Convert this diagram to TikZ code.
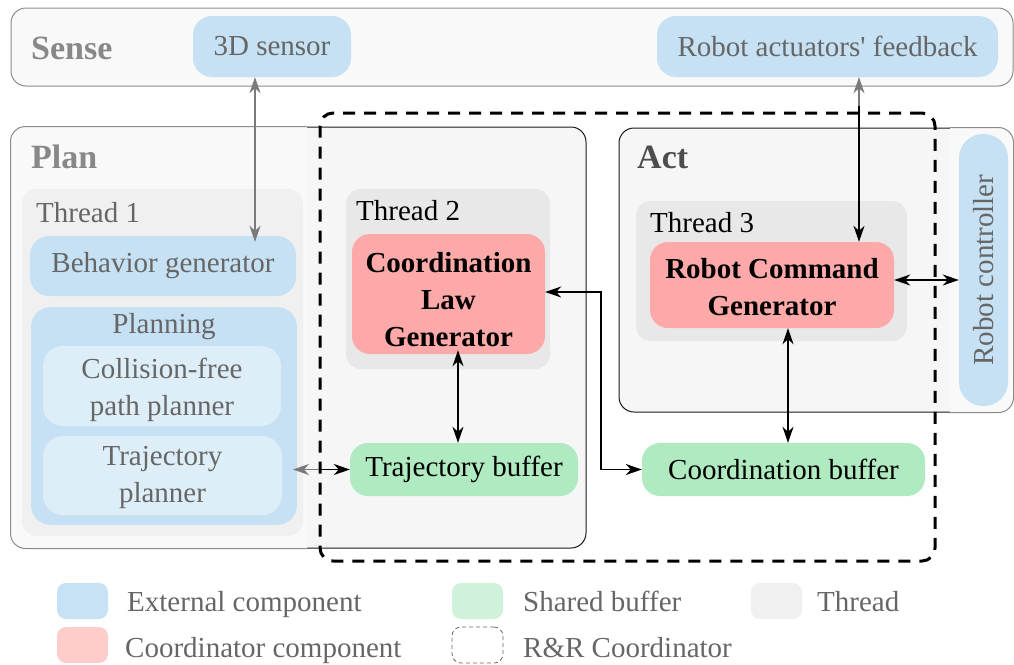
\documentclass[tikz,border=0pt]{standalone}
\usepackage{fontspec}
\setmainfont{Liberation Serif}
\newfontfamily\straightquote{Liberation Serif}[Ligatures=TeXOff]
\usetikzlibrary{arrows.meta,calc}

\definecolor{extblue}{HTML}{C5E1F3}
\definecolor{innerblue}{HTML}{DDEEF8}
\definecolor{coordred}{HTML}{FDA9A9}
\definecolor{bufgreen}{HTML}{AFEAC0}
\definecolor{threadgray}{HTML}{E8E8E8}
\definecolor{threadfade}{HTML}{F0F0F0}
\definecolor{panelback}{HTML}{F6F6F6}
\definecolor{panelfade}{HTML}{F9F9F9}
\definecolor{framegray}{HTML}{8C8C8C}
\definecolor{txtgray}{HTML}{666666}
\definecolor{headgray}{HTML}{888888}
\definecolor{actgray}{HTML}{4D4D4D}
\definecolor{wiregray}{HTML}{7A7A7A}
\definecolor{legred}{HTML}{FFCCCC}
\definecolor{leggreen}{HTML}{D0F2DA}
\definecolor{legblue}{HTML}{C6E2F4}

\tikzset{
  txt/.style={font=\fontsize{29}{37}\selectfont},
  boldtxt/.style={font=\fontsize{29}{37}\selectfont\bfseries},
  headtxt/.style={font=\fontsize{34}{40}\selectfont\bfseries, inner sep=0pt, anchor=base west},
  lbl/.style={txt, inner sep=0pt, anchor=base west},
  panel/.style={draw=black!90, line width=1pt, fill=panelback, rounded corners=15pt},
  threadbox/.style={fill=threadgray, rounded corners=15pt},
  extbox/.style={fill=extblue, rounded corners=19pt, text=txtgray, txt, align=center},
  innerbox/.style={fill=innerblue, rounded corners=20pt},
  coordbox/.style={fill=coordred, rounded corners=18pt},
  bufbox/.style={fill=bufgreen, rounded corners=18pt, txt, align=center},
  multitxt/.style={txt, text=txtgray, align=center, inner sep=0pt},
  multibold/.style={boldtxt, align=center, inner sep=0pt},
  link/.style={line width=1.3pt, {Stealth[length=16pt,width=11pt,inset=5pt]}-{Stealth[length=16pt,width=11pt,inset=5pt]}},
  halfin/.style={line width=1.3pt, -{Stealth[length=16pt,width=11pt,inset=5pt]}},
  legsq/.style={rounded corners=9pt, minimum width=51pt, minimum height=36pt, inner sep=0pt},
  legtxt/.style={txt, text=txtgray, inner sep=0pt, anchor=base west}
}

\begin{document}
\begin{tikzpicture}[x=1pt,y=-1pt]
\useasboundingbox (0,0) rectangle (1014,664);

% --- layers: Sense, Plan, Act ---
\node[draw=framegray, line width=1pt, fill=panelfade, rounded corners=15pt,
      minimum width=1002pt, minimum height=78pt, inner sep=0pt] (sense) at (512,47) {};
\node[panel, minimum width=575pt, minimum height=421pt, inner sep=0pt] (plan) at (298.5,337.5) {};
\node[panel, minimum width=394pt, minimum height=284pt, inner sep=0pt] (act) at (816,270) {};

% parts of the layers lying outside the coordinator band are faded
\begin{scope}
  \clip (0,0) rectangle (307,664) (950,0) rectangle (1014,664);
  \path[draw=framegray, line width=1pt, fill=panelfade, rounded corners=15pt]
    (plan.north west) rectangle (plan.south east);
  \path[draw=framegray, line width=1pt, fill=panelfade, rounded corners=15pt]
    (act.north west) rectangle (act.south east);
\end{scope}

\node[headtxt, text=headgray] (senselbl) at (31,59) {Sense};
\node[headtxt, text=headgray] (planlbl) at (31,168) {Plan};
\node[headtxt, text=actgray] (actlbl) at (637,168) {Act};

% --- threads ---
\node[threadbox, fill=threadfade, minimum width=281pt, minimum height=347pt, inner sep=0pt] (th1) at (162.5,362.5) {};
\node[threadbox, minimum width=204pt, minimum height=180pt, inner sep=0pt] (th2) at (448,279) {};
\node[threadbox, minimum width=271pt, minimum height=140pt, inner sep=0pt] (th3) at (771.5,271) {};
\node[lbl, text=txtgray] (th1lbl) at (36,222) {Thread 1};
\node[lbl] (th2lbl) at (356,220) {Thread 2};
\node[lbl] (th3lbl) at (650,232) {Thread 3};

% --- external components ---
\node[extbox, minimum width=158pt, minimum height=61pt, inner sep=0pt] (sensor) at (272,46.5) {3D sensor};
\node[extbox, minimum width=341pt, minimum height=61pt, inner sep=0pt] (raf) at (827.5,46.5) {Robot actuators{\straightquote'} feedback};
\node[extbox, minimum width=266pt, minimum height=60pt, inner sep=0pt] (bg) at (163,266) {Behavior generator};
\node[extbox, rounded corners=20pt, minimum width=266pt, minimum height=218pt, inner sep=0pt] (planning) at (164,416) {};
\node[txt, text=txtgray, inner sep=0pt, anchor=base] (planninglbl) at (164,333) {Planning};
\node[innerbox, minimum width=238pt, minimum height=80pt, inner sep=0pt] (cfp) at (162,386) {};
\node[multitxt] (cfptxt) at (162,390) {Collision-free\\path planner};
\node[innerbox, minimum width=239pt, minimum height=79pt, inner sep=0pt] (tp) at (162.5,475.5) {};
\node[multitxt] (tptxt) at (162.5,477.5) {Trajectory\\planner};
\node[extbox, rounded corners=24pt, minimum width=49pt, minimum height=272pt, inner sep=0pt] (rc) at (983.5,270) {};
\node[txt, text=txtgray, rotate=90, inner sep=0pt] (rclbl) at (rc.center) {Robot controller};

% --- coordinator components and shared buffers ---
\node[coordbox, minimum width=193pt, minimum height=120pt, inner sep=0pt] (clg) at (448.5,294) {};
\node[multibold] (clgtxt) at (448.5,300) {Coordination\\Law\\Generator};
\node[coordbox, minimum width=244pt, minimum height=86pt, inner sep=0pt] (rcg) at (772,285) {};
\node[multibold] (rcgtxt) at (772,287) {Robot Command\\Generator};
\node[bufbox, minimum width=228pt, minimum height=53pt, inner sep=0pt] (tb) at (464,469.5) {Trajectory buffer};
\node[bufbox, minimum width=283pt, minimum height=53pt, inner sep=0pt] (cb) at (783.5,469.5) {Coordination buffer};

% --- R&R coordinator boundary ---
\node[draw=black, line width=3pt, dash pattern=on 12pt off 9pt, rounded corners=13pt,
      minimum width=615pt, minimum height=448pt, inner sep=0pt] (rr) at (627.5,337) {};

% --- connectors ---
\coordinate (sx) at (255,0);
\draw[link, wiregray] (sensor.south -| sx) -- ([yshift=-6pt]bg.north -| sx);

\coordinate (fx) at (859,0);
\coordinate (fcut) at (859,106);
\draw[halfin, wiregray] (fcut) -- (raf.south -| fx);
\draw[halfin] (fcut) -- (rcg.north -| fx);

\coordinate (tpend) at (293,469.5);
\draw[halfin, wiregray] (tb.west -| rr.west) -- (tpend);
\draw[halfin] (tb.west -| rr.west) -- (tb.west);

\coordinate (lx) at (458,0);
\draw[link] ([yshift=4pt]clg.south -| lx) -- (tb.north -| lx);

\coordinate (elb) at (601,292);
\draw[link] (clg.east |- elb) -- (elb) |- (cb.west);

\coordinate (gx) at (788,0);
\draw[link] (rcg.south -| gx) -- (cb.north -| gx);

\coordinate (hy) at (0,280);
\draw[link] (rcg.east |- hy) -- (rc.west |- hy);

% --- legend ---
\node[legsq, fill=legblue] (legext) at (82.5,601) {};
\node[legsq, fill=legred] (legcoord) at (82.5,645) {};
\node[legsq, fill=leggreen] (legbuf) at (477.5,601) {};
\node[legsq, draw=txtgray, line width=0.8pt, dash pattern=on 4pt off 3pt] (legrr) at (477.5,645) {};
\node[legsq, fill=threadfade] (legth) at (776.5,601) {};
\node[legtxt] (legexttxt) at (127,611) {External component};
\node[legtxt] (legcoordtxt) at (125,657) {Coordinator component};
\node[legtxt] (legbuftxt) at (523,611) {Shared buffer};
\node[legtxt] (legrrtxt) at (523,657) {R\&R Coordinator};
\node[legtxt] (legthtxt) at (817,611) {Thread};
\end{tikzpicture}
\end{document}
